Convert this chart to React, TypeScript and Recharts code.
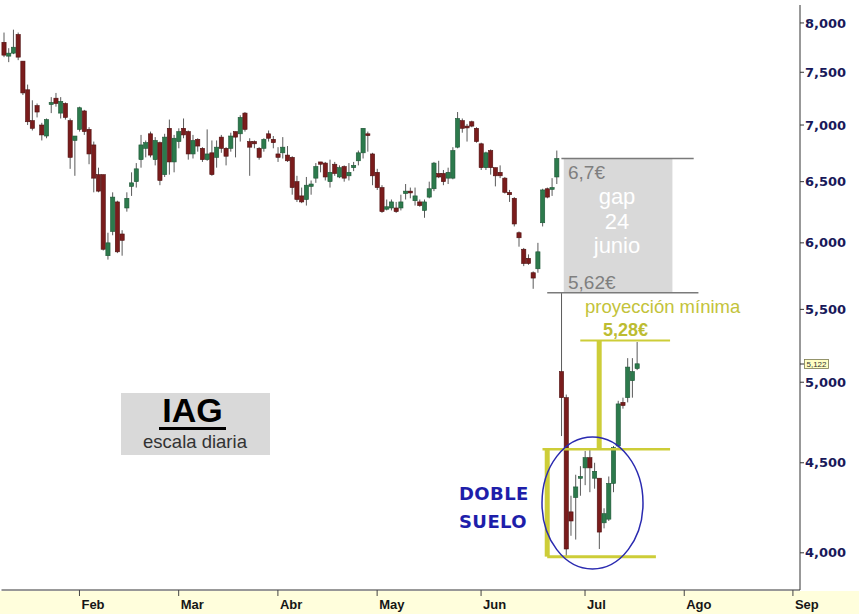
import React from 'react';
import { ComposedChart, Bar, XAxis, YAxis, ReferenceArea, ReferenceLine } from 'recharts';

// ---- data (IAG, daily candles) ----
const opens = [
  7.80, 7.66, 7.69, 7.88, 7.61, 7.33, 7.04, 7.18, 7.00, 6.90, 7.19, 7.25, 7.11, 7.20, 7.04, 6.86, 6.96, 7.13, 6.96, 6.82,
  6.56, 6.56, 5.90, 6.09, 6.33, 6.07, 6.28, 6.46, 6.50, 6.69, 6.79, 6.92, 6.69, 6.84, 6.56, 6.97, 6.67, 6.85, 6.97, 6.94,
  6.74, 6.87, 6.79, 6.69, 6.75, 6.71, 6.89, 6.79, 6.79, 6.94, 6.92, 7.11, 6.85, 6.85, 6.79, 6.79, 6.92, 6.87, 6.74, 6.75,
  6.73, 6.71, 6.50, 6.38, 6.35, 6.46, 6.53, 6.67, 6.66, 6.50, 6.65, 6.54, 6.63, 6.55, 6.62, 6.68, 6.75, 6.92, 6.74, 6.58,
  6.45, 6.27, 6.28, 6.28, 6.28, 6.40, 6.42, 6.34, 6.33, 6.26, 6.37, 6.44, 6.57, 6.57, 6.53, 6.53, 6.80, 7.04, 6.99, 7.03,
  6.97, 6.83, 6.62, 6.77, 6.62, 6.58, 6.53, 6.41, 6.36, 6.08, 5.95, 5.88, 5.77, 5.80, 6.16, 6.44, 6.44, 6.54, 5.07, 4.90,
  4.22, 4.30, 4.41, 4.47, 4.53, 4.41, 4.41, 4.16, 4.18, 4.38, 4.60, 4.87, 4.90, 5.01, 5.09,
];
const highs = [
  7.90, 7.74, 7.93, 7.90, 7.61, 7.38, 7.23, 7.20, 7.02, 7.06, 7.26, 7.30, 7.26, 7.21, 7.06, 6.90, 7.17, 7.14, 6.98, 6.85,
  6.62, 6.56, 6.08, 6.41, 6.34, 6.10, 6.41, 6.58, 6.66, 6.91, 6.86, 6.94, 6.89, 6.85, 6.92, 7.05, 6.91, 6.97, 7.06, 6.95,
  6.91, 6.88, 6.80, 6.96, 6.86, 6.86, 6.91, 6.80, 6.93, 6.94, 7.09, 7.12, 6.88, 6.86, 6.80, 6.88, 6.95, 6.90, 6.80, 6.89,
  6.81, 6.72, 6.55, 6.45, 6.54, 6.51, 6.66, 6.67, 6.67, 6.69, 6.67, 6.64, 6.64, 6.66, 6.67, 6.77, 6.97, 6.94, 6.75, 6.61,
  6.47, 6.35, 6.35, 6.33, 6.39, 6.48, 6.45, 6.45, 6.35, 6.35, 6.50, 6.67, 6.68, 6.60, 6.62, 6.80, 7.12, 7.06, 7.01, 7.04,
  6.98, 6.84, 6.76, 6.78, 6.62, 6.64, 6.54, 6.43, 6.37, 6.09, 5.96, 5.91, 5.78, 6.00, 6.44, 6.45, 6.53, 6.77, 5.62, 4.92,
  4.31, 4.43, 4.48, 4.57, 4.58, 4.50, 4.41, 4.24, 4.42, 4.60, 4.88, 4.90, 5.16, 5.16, 5.27,
];
const lows = [
  7.65, 7.60, 7.68, 7.62, 7.28, 7.00, 6.95, 7.07, 6.86, 6.88, 7.11, 7.17, 7.06, 7.05, 6.61, 6.55, 6.94, 6.91, 6.65, 6.41,
  6.41, 5.94, 5.87, 6.06, 5.92, 5.90, 6.25, 6.38, 6.45, 6.62, 6.71, 6.71, 6.64, 6.47, 6.54, 6.56, 6.58, 6.79, 6.88, 6.69,
  6.70, 6.76, 6.67, 6.68, 6.55, 6.62, 6.75, 6.64, 6.76, 6.71, 6.85, 6.94, 6.55, 6.79, 6.69, 6.76, 6.85, 6.79, 6.67, 6.70,
  6.67, 6.39, 6.33, 6.32, 6.30, 6.39, 6.49, 6.58, 6.51, 6.45, 6.55, 6.53, 6.50, 6.51, 6.59, 6.64, 6.70, 6.76, 6.47, 6.43,
  6.24, 6.26, 6.26, 6.24, 6.26, 6.35, 6.36, 6.30, 6.29, 6.20, 6.36, 6.42, 6.53, 6.47, 6.48, 6.52, 6.79, 6.93, 6.85, 6.98,
  6.84, 6.60, 6.60, 6.56, 6.46, 6.53, 6.40, 6.33, 6.13, 5.97, 5.82, 5.83, 5.65, 5.77, 6.13, 6.36, 6.38, 6.48, 4.66, 3.98,
  4.09, 4.07, 4.31, 4.37, 4.33, 4.35, 4.02, 4.13, 4.17, 4.33, 4.59, 4.83, 4.87, 4.90, 5.08,
];
const closes = [
  7.67, 7.69, 7.75, 7.65, 7.30, 7.03, 6.97, 7.12, 6.91, 7.05, 7.21, 7.20, 7.22, 7.07, 6.71, 6.90, 7.16, 6.94, 6.74, 6.53,
  6.42, 5.95, 6.00, 6.37, 5.93, 6.02, 6.36, 6.49, 6.61, 6.82, 6.84, 6.73, 6.86, 6.51, 6.89, 6.67, 6.88, 6.94, 6.91, 6.74,
  6.86, 6.81, 6.69, 6.74, 6.56, 6.80, 6.79, 6.72, 6.90, 6.89, 7.07, 6.96, 6.80, 6.83, 6.71, 6.87, 6.88, 6.84, 6.71, 6.80,
  6.68, 6.45, 6.35, 6.33, 6.47, 6.48, 6.63, 6.65, 6.54, 6.58, 6.57, 6.62, 6.53, 6.58, 6.64, 6.75, 6.97, 6.91, 6.55, 6.45,
  6.25, 6.29, 6.33, 6.25, 6.33, 6.42, 6.41, 6.38, 6.30, 6.33, 6.44, 6.66, 6.54, 6.50, 6.58, 6.77, 7.06, 6.97, 6.98, 6.99,
  6.85, 6.62, 6.75, 6.62, 6.55, 6.55, 6.41, 6.39, 6.15, 6.04, 5.84, 5.84, 5.73, 5.93, 6.43, 6.37, 6.45, 6.70, 4.90, 4.02,
  4.17, 4.36, 4.42, 4.53, 4.47, 4.45, 4.11, 4.21, 4.38, 4.59, 4.86, 4.85, 5.10, 5.07, 5.122,
];
const totalSlots = 169; // trading-day slots shown on the axis (incl. empty future days)
const monthLabels = ['Feb', 'Mar', 'Abr', 'May', 'Jun', 'Jul', 'Ago', 'Sep'];
const monthStartSlots = [16, 37, 58, 79, 101, 123, 144, 167];
const priceTicks = [4, 4.5, 5, 5.5, 6, 6.5, 7, 7.5, 8];
const gapTop = 6.7;
const gapBottom = 5.62;
const projection = 5.28;
const neckline = 4.58;
const doubleBottom = 3.98;
const lastPrice = 5.122;

const slots = Array.from({ length: totalSlots }, (_, i) => i);
const data = slots.map((i) =>
  i < opens.length
    ? { slot: i, range: [lows[i], highs[i]], o: opens[i], h: highs[i], l: lows[i], c: closes[i] }
    : { slot: i, range: null }
);

const fmt = (v: number, d = 3) => v.toFixed(d).replace('.', ',');

const RED = '#7a1c1c';
const GREEN = '#2c7a4c';
const YEL = '#cdcd38';

const Candle = (props: any) => {
  const { x, y, width, height, payload } = props;
  if (!payload || payload.o == null || x == null || y == null) return null;
  const top = Math.min(y, y + height);
  const bot = Math.max(y, y + height);
  const lh = Math.log(payload.h);
  const ll = Math.log(payload.l);
  const py = (v: number) => (lh === ll ? top : top + ((bot - top) * (lh - Math.log(v))) / (lh - ll));
  const cx = x + width / 2;
  const up = payload.c >= payload.o;
  const bTop = py(Math.max(payload.o, payload.c));
  const bBot = py(Math.min(payload.o, payload.c));
  return (
    <g>
      <line x1={cx} x2={cx} y1={top} y2={bot} stroke="#5a5a5a" strokeWidth={1} />
      <rect
        x={cx - 2.1}
        y={bTop}
        width={4.2}
        height={Math.max(bBot - bTop, 1.8)}
        fill={up ? GREEN : RED}
        stroke={up ? '#1d5535' : '#4e1010'}
        strokeWidth={0.6}
      />
    </g>
  );
};

const MonthTick = (props: any) => {
  const { x, y, payload } = props;
  const idx = monthStartSlots.indexOf(payload.value);
  const label = idx >= 0 ? monthLabels[idx] : '';
  return (
    <g>
      <line x1={x} x2={x} y1={y} y2={y + 6} stroke="#444" strokeWidth={1} />
      <text
        x={x + 2}
        y={y + 19}
        fill="#161616"
        fontSize={13}
        fontWeight="bold"
        fontFamily="'Liberation Sans', Arial, sans-serif"
      >
        {label}
      </text>
    </g>
  );
};

export default function App() {
  return (
    <div style={{ position: 'absolute', left: 0, top: 0, width: 859, height: 614, background: '#ffffff', overflow: 'hidden' }}>
      <div style={{ position: 'absolute', left: 0, top: 591, width: 859, height: 23, background: '#fffedc' }} />
      <div style={{ position: 'absolute', left: 0, top: 0 }}>
        <ComposedChart
          width={859}
          height={614}
          data={data}
          margin={{ top: 5, right: 0, bottom: 0, left: 1.5 }}
          barCategoryGap={0}
        >
          <XAxis
            dataKey="slot"
            type="category"
            ticks={monthStartSlots}
            interval={0}
            height={24}
            tickSize={0}
            tickMargin={0}
            tickLine={false}
            axisLine={{ stroke: '#333', strokeWidth: 1 }}
            tick={<MonthTick />}
          />
          <YAxis
            orientation="right"
            scale="log"
            domain={[3.81, 8.19]}
            allowDataOverflow
            ticks={priceTicks}
            interval={0}
            width={59}
            tickSize={4}
            tickMargin={1}
            axisLine={{ stroke: '#333', strokeWidth: 1 }}
            tickLine={{ stroke: '#333' }}
            tick={{ fill: '#19195a', fontSize: 13, fontWeight: 'bold', fontFamily: "'DejaVu Sans', Verdana, sans-serif" }}
            tickFormatter={(v: number) => fmt(v)}
          />
          <ReferenceArea x1={119} x2={141} y1={gapBottom} y2={gapTop} fill="#d9d9d9" fillOpacity={1} stroke="none" ifOverflow="visible" />
          <ReferenceLine segment={[{ x: 118, y: gapTop }, { x: 146, y: gapTop }]} stroke="#7a7a7a" strokeWidth={1.5} ifOverflow="visible" />
          <ReferenceLine segment={[{ x: 115, y: gapBottom }, { x: 147, y: gapBottom }]} stroke="#7a7a7a" strokeWidth={1.5} ifOverflow="visible" />
          <ReferenceLine segment={[{ x: 122, y: projection }, { x: 141, y: projection }]} stroke={YEL} strokeWidth={2} ifOverflow="visible" />
          <ReferenceLine segment={[{ x: 126, y: neckline }, { x: 126, y: projection }]} stroke={YEL} strokeWidth={5} ifOverflow="visible" />
          <ReferenceLine segment={[{ x: 114, y: neckline }, { x: 141, y: neckline }]} stroke={YEL} strokeWidth={2.5} ifOverflow="visible" />
          <ReferenceLine segment={[{ x: 115, y: doubleBottom }, { x: 115, y: neckline }]} stroke={YEL} strokeWidth={5} ifOverflow="visible" />
          <ReferenceLine segment={[{ x: 115, y: doubleBottom }, { x: 138, y: doubleBottom }]} stroke={YEL} strokeWidth={3} ifOverflow="visible" />
          <Bar dataKey="range" shape={(p: any) => <Candle {...p} />} isAnimationActive={false} />
        </ComposedChart>
      </div>
      <svg width={859} height={614} style={{ position: 'absolute', left: 0, top: 0, pointerEvents: 'none' }}>
        <g fontFamily="'Liberation Sans', Arial, sans-serif">
          {/* gap texts */}
          <text x={568} y={179} fontSize={19} fill="#7f7f7f">{fmt(gapTop, 1)}€</text>
          <text x={568} y={289} fontSize={19} fill="#7f7f7f">{fmt(gapBottom, 2)}€</text>
          <text x={617} y={204} fontSize={22} fill="#ffffff" textAnchor="middle">gap</text>
          <text x={617} y={229} fontSize={22} fill="#ffffff" textAnchor="middle">24</text>
          <text x={617} y={253} fontSize={22} fill="#ffffff" textAnchor="middle">junio</text>
          {/* projection */}
          <text x={585} y={313} fontSize={18.5} fill="#c3c33a">proyección mínima</text>
          <text x={603} y={336} fontSize={18} fontWeight="bold" fill="#bcbc32">{fmt(projection, 2)}€</text>
          {/* double bottom */}
          <ellipse cx={592.5} cy={503} rx={50.5} ry={66} fill="none" stroke="#2a2ab0" strokeWidth={1.5} />
          <text x={459} y={500} fontSize={18} fontWeight="bold" fill="#1e1eaa" fontFamily="'DejaVu Sans', Verdana, sans-serif" letterSpacing={0.4}>DOBLE</text>
          <text x={459} y={528} fontSize={18} fontWeight="bold" fill="#1e1eaa" fontFamily="'DejaVu Sans', Verdana, sans-serif" letterSpacing={0.4}>SUELO</text>
          {/* IAG box */}
          <rect x={121} y={393} width={149} height={62} fill="#d9d9d9" />
          <text x={192.5} y={422} fontSize={34} fontWeight="bold" fill="#000" textAnchor="middle">IAG</text>
          <rect x={159} y={427} width={67} height={3} fill="#000" />
          <text x={195} y={448} fontSize={18.5} fill="#333" textAnchor="middle">escala diaria</text>
          {/* last price label */}
          <line x1={800} x2={804} y1={364} y2={364} stroke="#333" />
          <rect x={804.5} y={359.5} width={24} height={9} fill="#ffffc4" stroke="#7a7a50" strokeWidth={0.8} />
          <text x={816.5} y={367} fontSize={8} fill="#333" textAnchor="middle">{fmt(lastPrice)}</text>
        </g>
      </svg>
    </div>
  );
}
